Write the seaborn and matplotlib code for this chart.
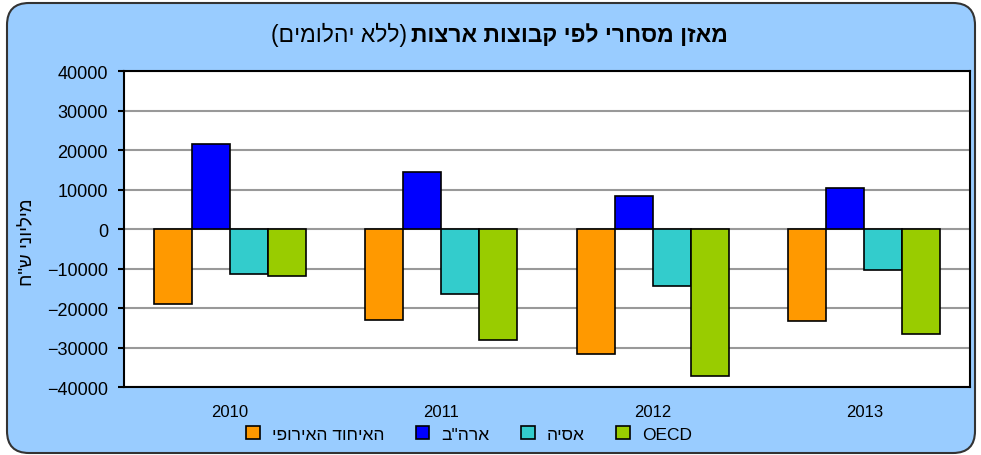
import pandas as pd
import matplotlib.pyplot as plt
import seaborn as sns
from matplotlib.patches import FancyBboxPatch, Patch

# data (millions NIS)
years = ["2010", "2011", "2012", "2013"]
groups = ["האיחוד האירופי", 'ארה"ב', "אסיה", "OECD"]
eu = [-18900, -23000, -31600, -23400]
usa = [21600, 14500, 8400, 10500]
asia = [-11300, -16400, -14400, -10300]
oecd = [-11800, -28000, -37100, -26500]
colors = ["#FF9900", "#0000FF", "#33CCCC", "#99CC00"]

title_main = "מאזן מסחרי לפי קבוצות ארצות"
title_note = "(ללא יהלומים)"
ylabel = 'מיליוני ש"ח'


def heb(s):
    # matplotlib has no bidi: flip hebrew into visual order
    if not any("\u0590" <= c <= "\u05ff" for c in s):
        return s
    return s[::-1].translate(str.maketrans("()", ")("))


rows = []
for g, vals in zip(groups, [eu, usa, asia, oecd]):
    for y, v in zip(years, vals):
        rows.append({"year": y, "group": g, "value": v})
df = pd.DataFrame(rows)

sns.set_style("white")
plt.rcParams["font.family"] = ["Liberation Sans", "DejaVu Sans"]
plt.rcParams["text.color"] = "black"
plt.rcParams["axes.labelcolor"] = "black"
plt.rcParams["xtick.color"] = "black"
plt.rcParams["ytick.color"] = "black"

fig = plt.figure(figsize=(9.81, 4.56), dpi=100, facecolor="white")

# rounded light blue frame behind everything
frame = FancyBboxPatch((0.07, 0.02), 9.68, 4.5,
                       boxstyle="round,pad=0,rounding_size=0.22",
                       transform=fig.dpi_scale_trans,
                       facecolor="#99CCFF", edgecolor="#333333", linewidth=1.5,
                       zorder=-10)
fig.patches.append(frame)

ax = fig.add_axes([0.1264, 0.1491, 0.8624, 0.693])
ax.set_facecolor("white")

sns.barplot(data=df, x="year", y="value", hue="group", hue_order=groups,
            palette=colors, saturation=1, width=0.72, edgecolor="black",
            linewidth=1.2, legend=False, ax=ax, zorder=3)

ax.set_ylim(-40000, 40000)
ax.set_yticks(range(-40000, 40001, 10000))
ax.yaxis.grid(True, color="#999999", linewidth=1.5, zorder=0)
ax.set_axisbelow(True)
for s in ax.spines.values():
    s.set_color("black")
    s.set_linewidth(1.5)

ax.tick_params(axis="y", left=True, length=4.5, width=1.5, pad=7,
               labelsize=13)
ax.tick_params(axis="x", length=0, pad=12, labelsize=12)
ax.set_xlabel("")
ax.set_ylabel(heb(ylabel), fontsize=13.5, rotation=90)
ax.yaxis.set_label_coords(-0.104, 0.46)

# title: bold main part, plain note in parentheses
fig.text(0.419, 0.923, heb(title_main), ha="left", va="center",
         fontsize=16.5, fontweight="bold")
fig.text(0.415, 0.923, heb(title_note), ha="right", va="center", fontsize=16.5)

handles = [Patch(facecolor=c, edgecolor="black", linewidth=1.2) for c in colors]
labels = [heb(g) for g in groups]
fig.legend(handles, labels, loc="center", bbox_to_anchor=(0.478, 0.046),
           ncol=4, frameon=False, fontsize=12.5, handlelength=0.8,
           handleheight=0.8, handletextpad=0.7, columnspacing=1.8)

fig.savefig("out.png", dpi=100, facecolor="white")
